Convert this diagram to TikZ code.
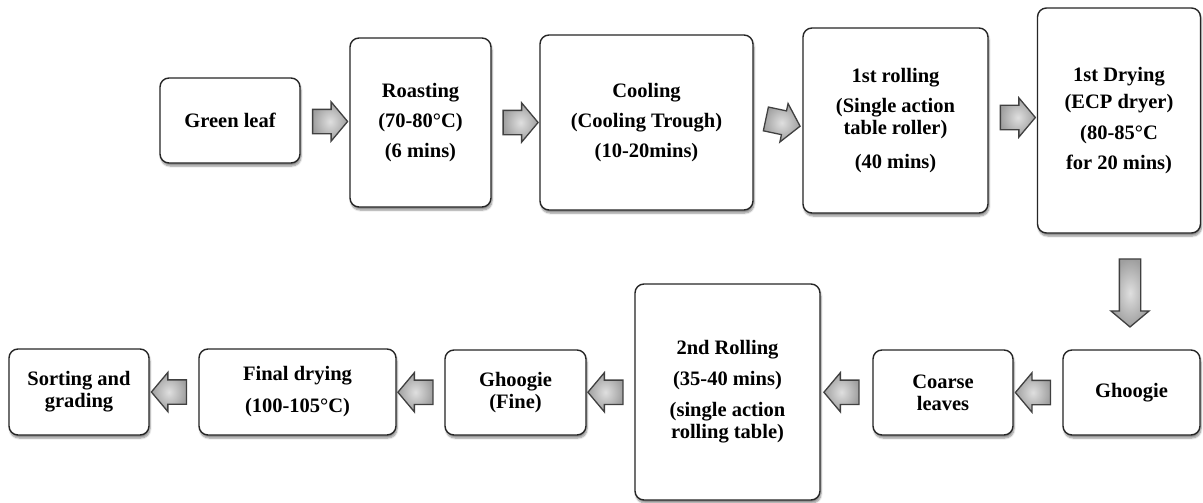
\documentclass[tikz,border=0pt]{standalone}
\usepackage{fontspec}
\setmainfont{Liberation Serif}
\usetikzlibrary{shapes.arrows,shadows.blur,calc}
\tikzset{
  box/.style={draw=black!85, line width=1.4pt, rounded corners=9pt, fill=white,
    align=center, inner sep=2pt, font=\fontsize{20.5}{22}\selectfont\bfseries,
    blur shadow={shadow xshift=1pt, shadow yshift=-3pt, shadow blur steps=6, shadow opacity=45}},
  blockarrow/.style={single arrow, draw=black!75, line width=1.3pt, inner xsep=0pt, inner ysep=11.5pt,
    minimum height=35pt, single arrow head extend=7.5pt,
    single arrow tip angle=100, inner color=gray!25, outer color=gray!75},
  downarrow/.style={blockarrow, minimum height=68pt, inner ysep=10pt,
    single arrow head extend=8.5pt, rotate=-90}
}
\begin{document}
\begin{tikzpicture}[x=1pt,y=-1pt]
\useasboundingbox (0,0) rectangle (1203,503);
% top row
\node[box, minimum width=140pt, minimum height=85pt] (green) at (230,120.5) {Green leaf};
\node[box, minimum width=141pt, minimum height=169pt] (roast) at (420.5,122.5) {Roasting\\[8pt](70-80°C)\\[8pt](6 mins)};
\node[box, minimum width=213pt, minimum height=175pt] (cool) at (646.5,122.5) {Cooling\\[8pt](Cooling Trough)\\[8pt](10-20mins)};
\node[box, minimum width=185pt, minimum height=185pt] (roll1) at (895.5,120.5) {1st rolling\\[8pt](Single action\\table roller)\\[12pt](40 mins)};
\node[box, minimum width=163pt, minimum height=225pt] (dry1) at (1119,120.5) {1st Drying\\[5pt](ECP dryer)\\[9pt](80-85°C\\[8pt]for 20 mins)};
% bottom row
\node[box, minimum width=137pt, minimum height=85pt] (ghoogie) at (1131.5,392.5) {Ghoogie};
\node[box, minimum width=140pt, minimum height=85pt] (coarse) at (943,392.5) {Coarse\\leaves};
\node[box, minimum width=185pt, minimum height=216pt] (roll2) at (727.5,392) {2nd Rolling\\[9pt](35-40 mins)\\[9pt](single action\\rolling table)};
\node[box, minimum width=141pt, minimum height=85pt] (fine) at (515.5,392.5) {Ghoogie\\(Fine)};
\node[box, minimum width=197pt, minimum height=86pt] (final) at (297.5,392) {Final drying\\[10pt](100-105°C)};
\node[box, minimum width=140pt, minimum height=86pt] (sort) at (79,392) {Sorting and\\grading};
% arrows
\node[blockarrow] (a1) at ($(green.east)!0.5!(roast.west)$) {};
\node[blockarrow] (a2) at ($(roast.east)!0.5!(cool.west)$) {};
\node[blockarrow, rotate=-12] (a3) at ($(cool.east)!0.5!(roll1.west)$) {};
\node[blockarrow] (a4) at ($(roll1.east)!0.5!(dry1.west)+(0,-3)$) {};
\node[downarrow] (a5) at ($(dry1.south -| ghoogie.north)!0.5!(ghoogie.north)+(-1.5,-3)$) {};
\node[blockarrow, rotate=180] (a6) at ($(ghoogie.west)!0.5!(coarse.east)$) {};
\node[blockarrow, rotate=180] (a7) at ($(coarse.west)!0.5!(roll2.east)$) {};
\node[blockarrow, rotate=180] (a8) at ($(roll2.west)!0.5!(fine.east)$) {};
\node[blockarrow, rotate=180] (a9) at ($(fine.west)!0.5!(final.east)$) {};
\node[blockarrow, rotate=180] (a10) at ($(final.west)!0.5!(sort.east)$) {};
\end{tikzpicture}
\end{document}
